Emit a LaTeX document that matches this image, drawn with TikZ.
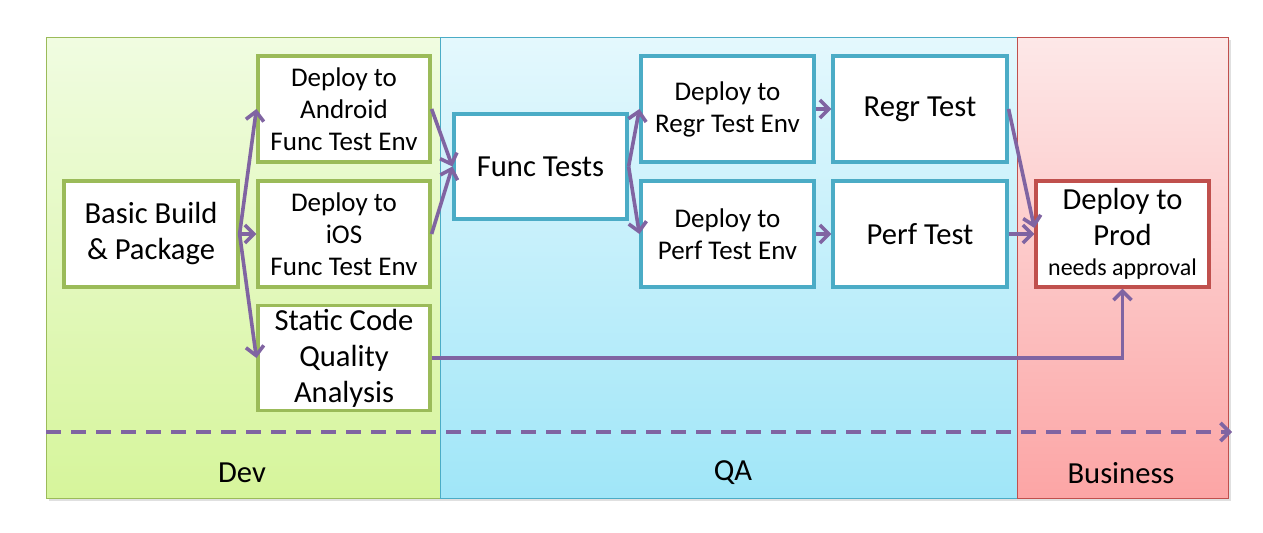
\documentclass[tikz,border=0pt]{standalone}
\usepackage{fontspec}
\setmainfont{Carlito}
\usetikzlibrary{arrows.meta}
\definecolor{devborder}{RGB}{155,187,89}
\definecolor{qaborder}{RGB}{75,172,198}
\definecolor{busborder}{RGB}{192,80,77}
\definecolor{devtop}{RGB}{240,252,225}
\definecolor{devbot}{RGB}{214,245,155}
\definecolor{qatop}{RGB}{228,248,253}
\definecolor{qabot}{RGB}{160,230,248}
\definecolor{bustop}{RGB}{253,232,232}
\definecolor{busbot}{RGB}{252,165,165}
\definecolor{arrowpurple}{RGB}{128,100,162}
\tikzset{
  lane/.style={draw=#1, line width=0.6pt, inner sep=0pt, anchor=north west},
  box/.style={draw=#1, fill=white, line width=1.6pt, inner sep=0pt, align=center, font=\fontsize{13.5}{16}\selectfont},
  bigtext/.style={font=\fontsize{15.3}{18}\selectfont},
  arr/.style={draw=arrowpurple, line width=1.8pt, -{Straight Barb[length=4.5pt,width=9pt,line width=1.8pt]}},
  dasharr/.style={arr, line width=2pt, dash pattern=on 7.5pt off 5pt},
  lanelabel/.style={font=\fontsize{15.3}{18}\selectfont}
}
\begin{document}
\begin{tikzpicture}[x=0.5pt,y=-0.5pt]
\useasboundingbox (0,0) rectangle (1263,533);
% lane shadows
\fill[black!12] (49,40) rectangle (1231,501);
% lanes
\node[lane=devborder, top color=devtop, bottom color=devbot, minimum width=197pt, minimum height=230.5pt] (dev) at (46,37) {};
\node[lane=qaborder, top color=qatop, bottom color=qabot, minimum width=288.5pt, minimum height=230.5pt] (qa) at (440,37) {};
\node[lane=busborder, top color=bustop, bottom color=busbot, minimum width=105.5pt, minimum height=230.5pt] (bus) at (1017,37) {};
\node[lanelabel] (devl) at (242,473) {Dev};
\node[lanelabel] (qal) at (733,473) {QA};
\node[lanelabel] (busl) at (1121,473) {Business};
% boxes
\node[box=devborder, bigtext, minimum width=87pt, minimum height=53pt] (bb) at (151,234) {Basic Build\\\& Package};
\node[box=devborder, minimum width=86pt, minimum height=53pt] (and) at (344,109) {Deploy to\\Android\\Func Test Env};
\node[box=devborder, minimum width=86pt, minimum height=53pt] (ios) at (344,234) {Deploy to\\iOS\\Func Test Env};
\node[box=devborder, bigtext, minimum width=86pt, minimum height=52.5pt] (sca) at (344,358) {Static Code\\Quality\\Analysis};
\node[box=qaborder, bigtext, minimum width=86.5pt, minimum height=52.5pt] (ft) at (540.5,166.5) {Func Tests};
\node[box=qaborder, minimum width=86.5pt, minimum height=53pt] (dre) at (727.5,109) {Deploy to\\Regr Test Env};
\node[box=qaborder, minimum width=86.5pt, minimum height=53pt] (dpe) at (727.5,234) {Deploy to\\Perf Test Env};
\node[box=qaborder, bigtext, minimum width=87pt, minimum height=53pt] (rt) at (920,109) {Regr Test};
\node[box=qaborder, bigtext, minimum width=87pt, minimum height=53pt] (pt) at (920,234) {Perf Test};
\node[box=busborder, bigtext, minimum width=86.5pt, minimum height=53pt] (prod) at (1122.5,234) {Deploy to\\Prod\\[-3pt]{\fontsize{12}{13}\selectfont needs approval}};
% connectors
\draw[arr] (bb.east) -- (and.west);
\draw[arr] (bb.east) -- (ios.west);
\draw[arr] (bb.east) -- (sca.west);
\draw[arr] (and.east) -- (ft.west);
\draw[arr] (ios.east) -- (ft.west);
\draw[arr] (ft.east) -- (dre.west);
\draw[arr] (ft.east) -- (dpe.west);
\draw[arr] (dre.east) -- (rt.west);
\draw[arr] (dpe.east) -- (pt.west);
\draw[arr] (rt.east) -- ([yshift=3pt]prod.west);
\draw[arr] (pt.east) -- (prod.west);
\draw[arr] (sca.east) -| (prod.south);
\coordinate (ds) at (46,432);
\coordinate (de) at (1232,432);
\draw[dasharr] (ds) -- (de);
\end{tikzpicture}
\end{document}
